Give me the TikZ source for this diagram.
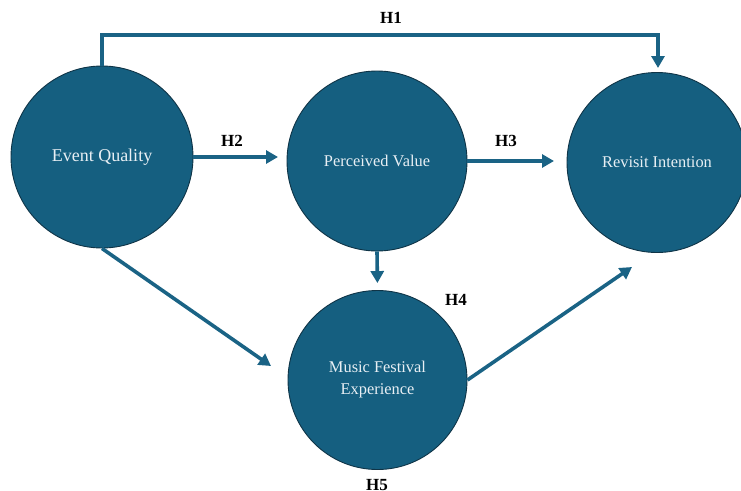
\documentclass[tikz,border=0pt]{standalone}
\usepackage{fontspec}
\setmainfont{Liberation Serif}
\usetikzlibrary{arrows.meta,calc}
\definecolor{cfill}{HTML}{155F80}
\definecolor{cedge}{HTML}{0F3447}
\definecolor{carrow}{HTML}{1A6385}
\definecolor{ctext}{HTML}{E8EFF4}
\begin{document}
\begin{tikzpicture}[x=1pt,y=1pt,
  concept/.style={circle, fill=cfill, draw=cedge, line width=0.9pt, minimum size=180pt, inner sep=0pt, text=ctext, font=\fontsize{16.4}{22}\selectfont, align=center},
  arr/.style={draw=carrow, line width=3.6pt, -{Triangle[length=12pt,width=13pt]}},
  hlab/.style={font=\fontsize{17}{20}\selectfont\bfseries, text=black}
]
\useasboundingbox (0,0) rectangle (741,-490);
\node[concept, minimum size=182pt, font=\fontsize{18}{22}\selectfont] (c1) at (102,-157) {Event Quality};
\node[concept] (c2) at (377,-161) {Perceived Value};
\node[concept] (c3) at (657,-162.5) {Revisit Intention};
\node[concept, minimum size=179pt] (c4) at (377.5,-380) {Music Festival\\Experience};
\coordinate (h1top) at (102,-35);
\coordinate (h1tip) at (658,-68);
\coordinate (h2tip) at (278,-157);
\coordinate (h3tip) at (554,-161);
\coordinate (dtip) at (271,-366);
\coordinate (etip) at (632,-267);
\draw[arr] (c1.north) -- (h1top) -| (h1tip);
\draw[arr] (c1.east |- h2tip) -- (h2tip);
\draw[arr] (c2.east) -- (h3tip);
\draw[arr, shorten >=7pt] (c2.south) -- (c4.north);
\draw[arr] (c1.south) -- (dtip);
\draw[arr] (c4.east) -- (etip);
\node[hlab] (l1) at (391,-18) {H1};
\node[hlab] (l2) at (232,-141) {H2};
\node[hlab] (l3) at (506,-141) {H3};
\node[hlab] (l4) at (456,-300) {H4};
\node[hlab] (l5) at (377,-485) {H5};
\end{tikzpicture}
\end{document}
